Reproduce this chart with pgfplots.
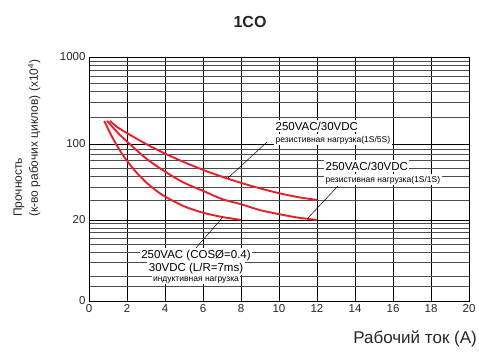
\documentclass[border=0pt]{standalone}
\usepackage{fontspec}
\setmainfont{Liberation Sans}
\usepackage{pgfplots}
\pgfplotsset{compat=1.18}
\usetikzlibrary{calc,backgrounds}
\definecolor{curvered}{RGB}{232,32,42}
\begin{document}
\begin{tikzpicture}
\begin{axis}[
  scale only axis, width=380pt, height=244pt,
  xmin=0, xmax=20, ymin=2, ymax=1000,
  y coord trafo/.code={\pgfmathparse{min(max(35.18*ln(#1/20), 47.22*ln(#1/20)), 76+37.65*ln(#1/100))}},
  ytick={2,20,100,1000}, yticklabels={0,20,100,1000},
  minor ytick={3,4,6,8,10,12,14,16,18,30,40,50,60,70,80,90,200,300,400,500,600,700,800,900},
  xtick={0,2,...,20},
  xmajorgrids=true, ymajorgrids=true, yminorgrids=true,
  major grid style={black, line width=0.6pt},
  minor grid style={black!70, line width=0.55pt},
  axis line style={black, line width=0.7pt},
  major tick length=0pt, minor tick length=0pt,
  /pgf/number format/assume math mode=true,
  tick label style={font=\fontsize{11.5}{12}\selectfont, text=black!85},
  clip=false,
]
\addplot[curvered, line width=1.9pt, smooth] coordinates {
 (0.8,184) (1.2,122) (1.6,88.4) (2,69.8) (2.5,54.5) (3,44.4) (3.5,37.6) (4,32.8) (5,26.7) (6,23.3) (7,21.3) (8,20)};
\addplot[curvered, line width=1.9pt, smooth] coordinates {
 (0.95,184) (1.5,135.3) (2,106.3) (3,73.5) (4,55.6) (5,43.9) (6,37.0) (7,31.1) (8,27.9) (9,24.6) (10,22.6) (11,21.0) (12,20)};
\addplot[curvered, line width=1.9pt, smooth] coordinates {
 (1.1,184) (1.5,155) (2,132.8) (3,99.7) (4,81.4) (5,67.9) (6,57.6) (7,49.9) (8,43.8) (9,39.0) (10,35.2) (11,32.4) (12,30.5)};
\end{axis}
\begin{scope}[shift={($(current axis.south west)+(-89pt,301pt)$)}, x=1pt, y=-1pt]
  % vertical grid lines (x = 2,4,...,18), behind the curves
  \begin{pgfonlayer}{background}
    \foreach \gx in {127,165,203,241,279,317,355,393,431} {
      \draw[black!85, line width=1pt] (\gx,57) -- (\gx,301);
    }
  \end{pgfonlayer}
  % leader lines
  \draw[black, line width=0.5pt] (267,142) -- (228,178);
  \draw[black, line width=0.5pt] (338,186) -- (307,219);
  \draw[black, line width=0.5pt] (195,249) -- (223,217);
  % annotation 1
  \node[fill=white, inner sep=1.5pt, anchor=base west, font=\fontsize{11.5}{12}\selectfont] at (274,130) {250VAC/30VDC};
  \node[fill=white, inner sep=1.5pt, anchor=base west, font=\fontsize{8.5}{9}\selectfont] at (274,142) {резистивная нагрузка(1S/5S)};
  % annotation 2
  \node[fill=white, inner sep=1.5pt, anchor=base west, font=\fontsize{11.5}{12}\selectfont] at (324,170) {250VAC/30VDC};
  \node[fill=white, inner sep=1.5pt, anchor=base west, font=\fontsize{8.5}{9}\selectfont] at (324,182) {резистивная нагрузка(1S/1S)};
  % annotation 3
  \node[fill=white, inner sep=1.5pt, anchor=base, font=\fontsize{11.5}{12}\selectfont] at (196,258) {250VAC (COSØ=0.4)};
  \node[fill=white, inner sep=1.5pt, anchor=base, font=\fontsize{11.5}{12}\selectfont] at (196,271) {30VDC (L/R=7ms)};
  \node[fill=white, inner sep=1.5pt, anchor=base, font=\fontsize{8.5}{9}\selectfont] at (196,281) {индуктивная нагрузка};
  % title
  \node[anchor=base, font=\bfseries\fontsize{16}{16}\selectfont, text=black!85] at (250,28) {1CO};
  % y label
  \node[rotate=90, anchor=base west, inner sep=0pt, font=\fontsize{12}{12}\selectfont, text=black!85] at (22,217) {Прочность};
  \node[rotate=90, anchor=base west, inner sep=0pt, font=\fontsize{12}{12}\selectfont, text=black!85] at (38,217) {(к-во рабочих циклов) (x10\textsuperscript{4})};
  % x label
  \node[anchor=base east, inner sep=0pt, font=\fontsize{17}{17}\selectfont, text=black!85] at (477,343) {Рабочий ток (A)};
  \pgfresetboundingbox
  \useasboundingbox (0,0) rectangle (479,354);
\end{scope}
\end{tikzpicture}
\end{document}
